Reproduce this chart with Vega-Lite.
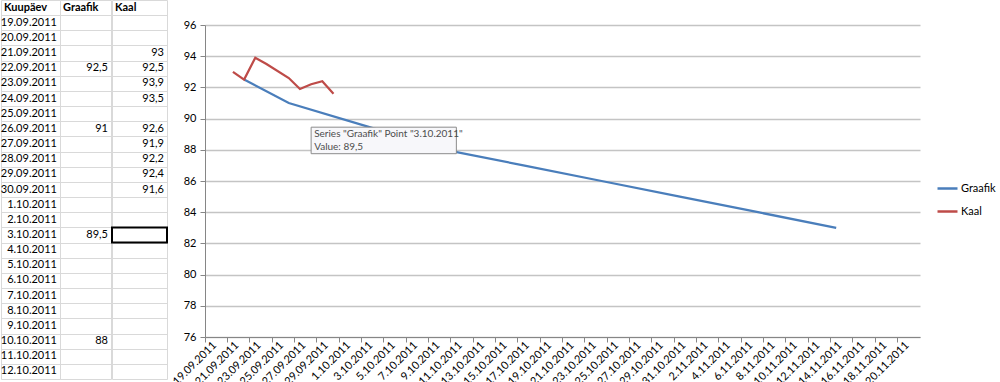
{
  "$schema": "https://vega.github.io/schema/vega-lite/v6.json",
  "padding": 0,
  "background": "white",
  "spacing": 2,
  "config": {"view": {"stroke": null}, "font": "Lato"},
  "datasets": {
    "sheet": [
      {"Kuupäev": "19.09.2011", "Graafik": "", "Kaal": ""},
      {"Kuupäev": "20.09.2011", "Graafik": "", "Kaal": ""},
      {"Kuupäev": "21.09.2011", "Graafik": "", "Kaal": "93"},
      {"Kuupäev": "22.09.2011", "Graafik": "92,5", "Kaal": "92,5"},
      {"Kuupäev": "23.09.2011", "Graafik": "", "Kaal": "93,9"},
      {"Kuupäev": "24.09.2011", "Graafik": "", "Kaal": "93,5"},
      {"Kuupäev": "25.09.2011", "Graafik": "", "Kaal": ""},
      {"Kuupäev": "26.09.2011", "Graafik": "91", "Kaal": "92,6"},
      {"Kuupäev": "27.09.2011", "Graafik": "", "Kaal": "91,9"},
      {"Kuupäev": "28.09.2011", "Graafik": "", "Kaal": "92,2"},
      {"Kuupäev": "29.09.2011", "Graafik": "", "Kaal": "92,4"},
      {"Kuupäev": "30.09.2011", "Graafik": "", "Kaal": "91,6"},
      {"Kuupäev": "1.10.2011", "Graafik": "", "Kaal": ""},
      {"Kuupäev": "2.10.2011", "Graafik": "", "Kaal": ""},
      {"Kuupäev": "3.10.2011", "Graafik": "89,5", "Kaal": ""},
      {"Kuupäev": "4.10.2011", "Graafik": "", "Kaal": ""},
      {"Kuupäev": "5.10.2011", "Graafik": "", "Kaal": ""},
      {"Kuupäev": "6.10.2011", "Graafik": "", "Kaal": ""},
      {"Kuupäev": "7.10.2011", "Graafik": "", "Kaal": ""},
      {"Kuupäev": "8.10.2011", "Graafik": "", "Kaal": ""},
      {"Kuupäev": "9.10.2011", "Graafik": "", "Kaal": ""},
      {"Kuupäev": "10.10.2011", "Graafik": "88", "Kaal": ""},
      {"Kuupäev": "11.10.2011", "Graafik": "", "Kaal": ""},
      {"Kuupäev": "12.10.2011", "Graafik": "", "Kaal": ""}
    ],
    "series": [
      {"date": "22.09.2011", "series": "Graafik", "value": 92.5},
      {"date": "26.09.2011", "series": "Graafik", "value": 91},
      {"date": "3.10.2011", "series": "Graafik", "value": 89.5},
      {"date": "10.10.2011", "series": "Graafik", "value": 88},
      {"date": "17.10.2011", "series": "Graafik", "value": 87},
      {"date": "24.10.2011", "series": "Graafik", "value": 86},
      {"date": "31.10.2011", "series": "Graafik", "value": 85},
      {"date": "7.11.2011", "series": "Graafik", "value": 84},
      {"date": "14.11.2011", "series": "Graafik", "value": 83},
      {"date": "21.09.2011", "series": "Kaal", "value": 93},
      {"date": "22.09.2011", "series": "Kaal", "value": 92.5},
      {"date": "23.09.2011", "series": "Kaal", "value": 93.9},
      {"date": "24.09.2011", "series": "Kaal", "value": 93.5},
      {"date": "26.09.2011", "series": "Kaal", "value": 92.6},
      {"date": "27.09.2011", "series": "Kaal", "value": 91.9},
      {"date": "28.09.2011", "series": "Kaal", "value": 92.2},
      {"date": "29.09.2011", "series": "Kaal", "value": 92.4},
      {"date": "30.09.2011", "series": "Kaal", "value": 91.6}
    ],
    "tip": [
      {"date": "28.09.2011", "date2": "11.10.2011", "top": 89.45, "bottom": 87.75, "label": "Series \"Graafik\" Point \"3.10.2011\"\nValue: 89,5"}
    ]
  },
  "hconcat": [
    {
      "spacing": 0,
      "hconcat": [
        {
          "width": 59, "height": 379,
          "data": {"name": "sheet"},
          "layer": [
            {
              "transform": [{"fold": ["Kuupäev"], "as": ["col", "val"]}],
              "mark": {"type": "text", "align": "right", "dx": -3, "fontSize": 11, "color": "#000"},
              "encoding": {
                "x": {"field": "col", "type": "nominal", "bandPosition": 1, "scale": {"type": "band", "paddingInner": 0, "paddingOuter": 0}, "axis": {"grid": true, "tickBand": "extent", "gridColor": "#d9d9d9", "labels": false, "ticks": false, "domain": false, "title": null}},
                "y": {"field": "Kuupäev", "type": "ordinal", "scale": {"type": "band", "paddingInner": 0, "paddingOuter": 0, "domain": ["Kuupäev","19.09.2011","20.09.2011","21.09.2011","22.09.2011","23.09.2011","24.09.2011","25.09.2011","26.09.2011","27.09.2011","28.09.2011","29.09.2011","30.09.2011","1.10.2011","2.10.2011","3.10.2011","4.10.2011","5.10.2011","6.10.2011","7.10.2011","8.10.2011","9.10.2011","10.10.2011","11.10.2011","12.10.2011"]}, "axis": {"grid": true, "tickBand": "extent", "gridColor": "#d9d9d9", "labels": false, "ticks": false, "domain": false, "title": null}},
                "text": {"field": "val", "type": "nominal"}
              }
            },
            {
              "data": {"values": [{"col": "Kuupäev"}]},
              "mark": {"type": "text", "align": "left", "dx": 3, "fontSize": 11, "fontWeight": "bold", "color": "#000"},
              "encoding": {
                "x": {"field": "col", "type": "nominal", "bandPosition": 0},
                "y": {"datum": "Kuupäev", "type": "ordinal"},
                "text": {"field": "col", "type": "nominal"}
              }
            }
          ]
        },
        {
          "width": 51, "height": 379,
          "data": {"name": "sheet"},
          "layer": [
            {
              "transform": [{"fold": ["Graafik"], "as": ["col", "val"]}],
              "mark": {"type": "text", "align": "right", "dx": -3, "fontSize": 11, "color": "#000"},
              "encoding": {
                "x": {"field": "col", "type": "nominal", "bandPosition": 1, "scale": {"type": "band", "paddingInner": 0, "paddingOuter": 0}, "axis": {"grid": true, "tickBand": "extent", "gridColor": "#d9d9d9", "labels": false, "ticks": false, "domain": false, "title": null}},
                "y": {"field": "Kuupäev", "type": "ordinal", "scale": {"type": "band", "paddingInner": 0, "paddingOuter": 0, "domain": ["Kuupäev","19.09.2011","20.09.2011","21.09.2011","22.09.2011","23.09.2011","24.09.2011","25.09.2011","26.09.2011","27.09.2011","28.09.2011","29.09.2011","30.09.2011","1.10.2011","2.10.2011","3.10.2011","4.10.2011","5.10.2011","6.10.2011","7.10.2011","8.10.2011","9.10.2011","10.10.2011","11.10.2011","12.10.2011"]}, "axis": {"grid": true, "tickBand": "extent", "gridColor": "#d9d9d9", "labels": false, "ticks": false, "domain": false, "title": null}},
                "text": {"field": "val", "type": "nominal"}
              }
            },
            {
              "data": {"values": [{"col": "Graafik"}]},
              "mark": {"type": "text", "align": "left", "dx": 3, "fontSize": 11, "fontWeight": "bold", "color": "#000"},
              "encoding": {
                "x": {"field": "col", "type": "nominal", "bandPosition": 0},
                "y": {"datum": "Kuupäev", "type": "ordinal"},
                "text": {"field": "col", "type": "nominal"}
              }
            }
          ]
        },
        {
          "width": 55, "height": 379,
          "data": {"name": "sheet"},
          "layer": [
            {
              "transform": [{"fold": ["Kaal"], "as": ["col", "val"]}],
              "mark": {"type": "text", "align": "right", "dx": -3, "fontSize": 11, "color": "#000"},
              "encoding": {
                "x": {"field": "col", "type": "nominal", "bandPosition": 1, "scale": {"type": "band", "paddingInner": 0, "paddingOuter": 0}, "axis": {"grid": true, "tickBand": "extent", "gridColor": "#d9d9d9", "labels": false, "ticks": false, "domain": false, "title": null}},
                "y": {"field": "Kuupäev", "type": "ordinal", "scale": {"type": "band", "paddingInner": 0, "paddingOuter": 0, "domain": ["Kuupäev","19.09.2011","20.09.2011","21.09.2011","22.09.2011","23.09.2011","24.09.2011","25.09.2011","26.09.2011","27.09.2011","28.09.2011","29.09.2011","30.09.2011","1.10.2011","2.10.2011","3.10.2011","4.10.2011","5.10.2011","6.10.2011","7.10.2011","8.10.2011","9.10.2011","10.10.2011","11.10.2011","12.10.2011"]}, "axis": {"grid": true, "tickBand": "extent", "gridColor": "#d9d9d9", "labels": false, "ticks": false, "domain": false, "title": null}},
                "text": {"field": "val", "type": "nominal"}
              }
            },
            {
              "data": {"values": [{"col": "Kaal"}]},
              "mark": {"type": "text", "align": "left", "dx": 3, "fontSize": 11, "fontWeight": "bold", "color": "#000"},
              "encoding": {
                "x": {"field": "col", "type": "nominal", "bandPosition": 0},
                "y": {"datum": "Kuupäev", "type": "ordinal"},
                "text": {"field": "col", "type": "nominal"}
              }
            },
            {
              "transform": [{"fold": ["Kaal"], "as": ["col", "val"]}, {"filter": "datum['Kuupäev'] === '3.10.2011'"}],
              "mark": {"type": "rect", "fill": null, "stroke": "#000", "strokeWidth": 2},
              "encoding": {
                "x": {"field": "col", "type": "nominal"},
                "y": {"field": "Kuupäev", "type": "ordinal"}
              }
            }
          ]
        }
      ]
    },
    {
      "spacing": 18,
      "vconcat": [
        {
          "width": 715, "height": 1,
          "data": {"values": [{"t": 0}]},
          "mark": {"type": "rect", "opacity": 0},
          "encoding": {}
        },
        {
          "width": 715, "height": 312,
          "data": {"name": "series"},
          "resolve": {"axis": {"x": "independent", "y": "independent"}},
          "layer": [
            {
              "mark": {"type": "line", "strokeWidth": 2.25},
              "encoding": {
                "x": {"field": "date", "type": "ordinal", "sort": null, "bandPosition": 0.5,
                  "scale": {"type": "band", "paddingInner": 0, "paddingOuter": 0, "domain": ["19.09.2011","20.09.2011","21.09.2011","22.09.2011","23.09.2011","24.09.2011","25.09.2011","26.09.2011","27.09.2011","28.09.2011","29.09.2011","30.09.2011","1.10.2011","2.10.2011","3.10.2011","4.10.2011","5.10.2011","6.10.2011","7.10.2011","8.10.2011","9.10.2011","10.10.2011","11.10.2011","12.10.2011","13.10.2011","14.10.2011","15.10.2011","16.10.2011","17.10.2011","18.10.2011","19.10.2011","20.10.2011","21.10.2011","22.10.2011","23.10.2011","24.10.2011","25.10.2011","26.10.2011","27.10.2011","28.10.2011","29.10.2011","30.10.2011","31.10.2011","1.11.2011","2.11.2011","3.11.2011","4.11.2011","5.11.2011","6.11.2011","7.11.2011","8.11.2011","9.11.2011","10.11.2011","11.11.2011","12.11.2011","13.11.2011","14.11.2011","15.11.2011","16.11.2011","17.11.2011","18.11.2011","19.11.2011","20.11.2011","21.11.2011"]},
                  "axis": {"orient": "bottom", "values": ["19.09.2011","21.09.2011","23.09.2011","25.09.2011","27.09.2011","29.09.2011","1.10.2011","3.10.2011","5.10.2011","7.10.2011","9.10.2011","11.10.2011","13.10.2011","15.10.2011","17.10.2011","19.10.2011","21.10.2011","23.10.2011","25.10.2011","27.10.2011","29.10.2011","31.10.2011","2.11.2011","4.11.2011","6.11.2011","8.11.2011","10.11.2011","12.11.2011","14.11.2011","16.11.2011","18.11.2011","20.11.2011"], "bandPosition": 0, "labels": false, "ticks": true, "tickSize": 5, "tickColor": "#868686", "domainColor": "#868686", "grid": false, "title": null}},
                "y": {"field": "value", "type": "quantitative", "scale": {"domain": [76, 96], "nice": false, "zero": false},
                  "axis": {"values": [76, 78, 80, 82, 84, 86, 88, 90, 92, 94, 96], "labelOverlap": false, "title": null, "grid": true, "gridColor": "#c4c4c4", "gridWidth": 1.5, "domainColor": "#868686", "tickColor": "#868686", "tickSize": 5, "labelPadding": 4, "labelFontSize": 11, "labelColor": "#000"}},
                "color": {"field": "series", "type": "nominal", "scale": {"domain": ["Graafik", "Kaal"], "range": ["#4a7ebb", "#be4b48"]},
                  "legend": {"title": null, "orient": "none", "legendX": 935, "legendY": 177, "symbolType": "stroke", "symbolSize": 400, "symbolStrokeWidth": 2.5, "labelFontSize": 11, "labelColor": "#000", "rowPadding": 6, "labelOffset": 2}}
              }
            },
            {
              "data": {"name": "tip"},
              "mark": {"type": "rect", "fill": "#f7f7fa", "stroke": "#8c8c8c", "strokeWidth": 1},
              "encoding": {
                "x": {"field": "date", "type": "ordinal", "bandPosition": 0.5, "axis": null},
                "x2": {"field": "date2"},
                "y": {"field": "top", "type": "quantitative", "axis": null},
                "y2": {"field": "bottom"}
              }
            },
            {
              "data": {"name": "tip"},
              "mark": {"type": "text", "align": "left", "baseline": "top", "dx": 3, "dy": 2, "fontSize": 10, "lineHeight": 13, "lineBreak": "\n", "color": "#4d4d4d"},
              "encoding": {
                "x": {"field": "date", "type": "ordinal", "bandPosition": 0.5, "axis": null},
                "y": {"field": "top", "type": "quantitative", "axis": null},
                "text": {"field": "label", "type": "nominal"}
              }
            },
            {
              "mark": {"type": "point", "opacity": 0},
              "encoding": {
                "x": {"field": "date", "type": "ordinal",
                  "axis": {"orient": "bottom", "values": ["19.09.2011","21.09.2011","23.09.2011","25.09.2011","27.09.2011","29.09.2011","1.10.2011","3.10.2011","5.10.2011","7.10.2011","9.10.2011","11.10.2011","13.10.2011","15.10.2011","17.10.2011","19.10.2011","21.10.2011","23.10.2011","25.10.2011","27.10.2011","29.10.2011","31.10.2011","2.11.2011","4.11.2011","6.11.2011","8.11.2011","10.11.2011","12.11.2011","14.11.2011","16.11.2011","18.11.2011","20.11.2011"], "labelAngle": -45, "labelFontSize": 11, "labelColor": "#000", "ticks": false, "domain": false, "grid": false, "title": null, "labelPadding": 2, "labelOverlap": false}}
              }
            }
          ]
        }
      ]
    }
  ]
}
